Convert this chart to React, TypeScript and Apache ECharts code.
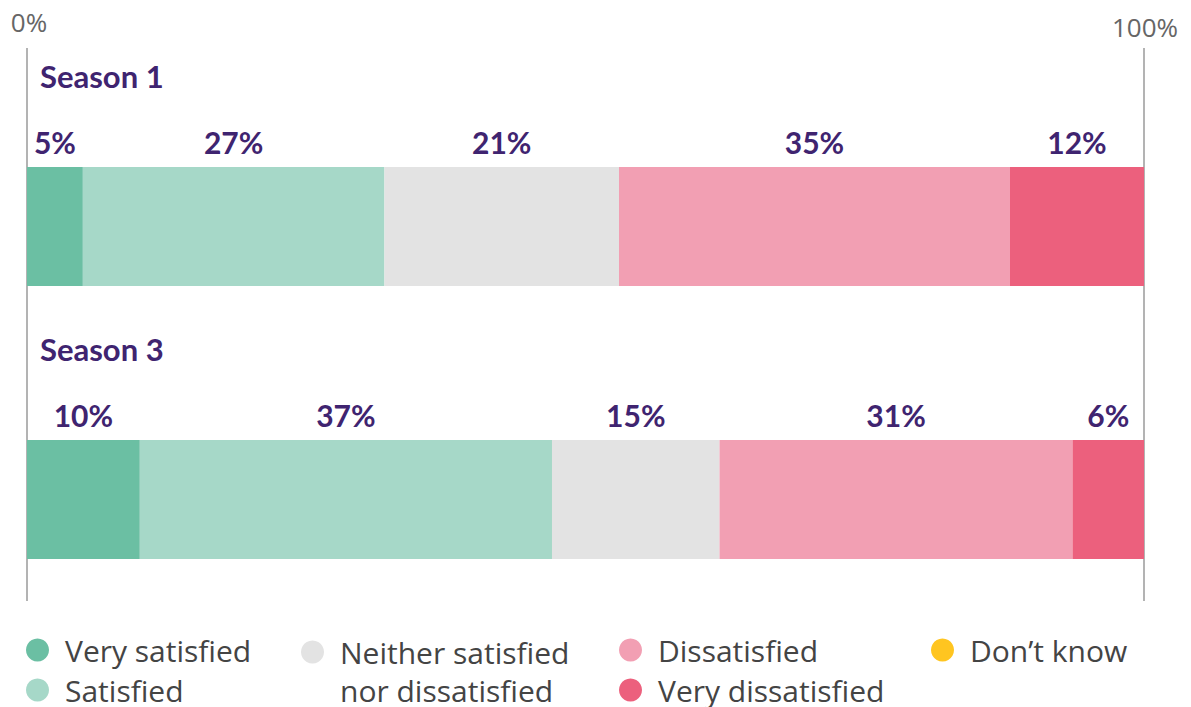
import React, { useEffect, useRef } from "react";
import * as echarts from "echarts";

const categories = ["Season 1", "Season 3"];
const seriesNames = [
  "Very satisfied",
  "Satisfied",
  "Neither satisfied\nnor dissatisfied",
  "Dissatisfied",
  "Very dissatisfied",
  "Don’t know",
];
const verySatisfied = [5, 10.1];
const satisfied = [27, 36.9];
const neither = [21, 15.0];
const dissatisfied = [35, 31.6];
const veryDissatisfied = [12, 6.4];
const dontKnow = [0, 0];

const verySatisfiedLabels = ["5%", "10%"];
const satisfiedLabels = ["27%", "37%"];
const neitherLabels = ["21%", "15%"];
const dissatisfiedLabels = ["35%", "31%"];
const veryDissatisfiedLabels = ["12%", "6%"];
const dontKnowLabels = ["", ""];

const axisEndLabels = ["0%", "100%"];

const colors = ["#6BBFA3", "#A6D8C8", "#E3E3E3", "#F29FB3", "#EC607D", "#FFC520"];
const PURPLE = "#3F2470";
const FONT = "Lato, 'Noto Sans', sans-serif";
const LFONT = "'Open Sans', 'Noto Sans', sans-serif";

export default function App() {
  const ref = useRef<HTMLDivElement>(null);
  useEffect(() => {
    document.body.style.margin = "0";
    if (!ref.current) return;
    const chart = echarts.init(ref.current, undefined, { renderer: "svg" });
    const values = [verySatisfied, satisfied, neither, dissatisfied, veryDissatisfied, dontKnow];
    const labels = [
      verySatisfiedLabels,
      satisfiedLabels,
      neitherLabels,
      dissatisfiedLabels,
      veryDissatisfiedLabels,
      dontKnowLabels,
    ];
    const legendText = {
      fontFamily: LFONT,
      fontSize: 30,
      color: "#444",
      lineHeight: 34,
      padding: [0, 0, 0, 11],
    };
    const legendBase = {
      orient: "vertical" as const,
      icon: "circle",
      itemWidth: 23,
      itemHeight: 23,
      itemGap: 6,
      height: 200,
      selectedMode: false,
      textStyle: legendText,
    };
    chart.setOption({
      animation: false,
      textStyle: { fontFamily: FONT },
      grid: { left: 27, right: 47, top: 90, bottom: 71 },
      xAxis: {
        type: "value",
        min: 0,
        max: 100,
        show: false,
      },
      yAxis: {
        type: "category",
        data: categories,
        inverse: true,
        axisLine: { show: false },
        axisTick: { show: false },
        axisLabel: {
          inside: true,
          interval: 0,
          hideOverlap: false,
          margin: 13,
          align: "left",
          verticalAlign: "middle",
          formatter: (v: string) => "{a|" + v + "}\n{b|\u00a0}",
          rich: {
            a: {
              fontFamily: FONT,
              fontSize: 31,
              fontWeight: "bold",
              color: PURPLE,
              height: 30,
              lineHeight: 30,
            },
            b: { height: 301, lineHeight: 301, fontSize: 10 },
          },
        },
        z: 10,
      },
      legend: [
        { ...legendBase, left: 21, top: 628, data: [seriesNames[0], seriesNames[1]] },
        {
          ...legendBase,
          left: 296,
          top: 590,
          data: [seriesNames[2]],
          formatter: (name: string) =>
            "{e|\u00a0}\n" + name.split("\n").map((s) => "{t|" + s + "}").join("\n"),
          textStyle: {
            ...legendText,
            lineHeight: 38,
            rich: {
              e: { height: 38, lineHeight: 38, fontSize: 10 },
              t: { fontFamily: LFONT, fontSize: 30, color: "#444", lineHeight: 38, height: 38 },
            },
          },
        },
        { ...legendBase, left: 614, top: 628, data: [seriesNames[3], seriesNames[4]] },
        { ...legendBase, left: 926, top: 628, data: [seriesNames[5]] },
      ],
      graphic: [
        { type: "line", shape: { x1: 27, y1: 48, x2: 27, y2: 601 }, style: { stroke: "#9a9a9a", lineWidth: 1.5 } },
        { type: "line", shape: { x1: 1144, y1: 48, x2: 1144, y2: 601 }, style: { stroke: "#9a9a9a", lineWidth: 1.5 } },
        {
          type: "text",
          x: 29,
          y: 22,
          style: { text: axisEndLabels[0], fontFamily: LFONT, fontSize: 26, fill: "#666", align: "center", verticalAlign: "middle" },
        },
        {
          type: "text",
          x: 1145,
          y: 27,
          style: { text: axisEndLabels[1], fontFamily: LFONT, fontSize: 26, fill: "#666", align: "center", verticalAlign: "middle" },
        },
      ],
      series: values.map((v, i) => ({
        name: seriesNames[i],
        type: "bar",
        stack: "total",
        barWidth: 119,
        data: v,
        itemStyle: { color: colors[i] },
        label: {
          show: i < 5,
          position: "top",
          distance: 10,
          fontFamily: FONT,
          fontSize: 30,
          fontWeight: "bold",
          color: PURPLE,
          formatter: (p: any) => labels[i][p.dataIndex],
        },
      })),
    });
    return () => chart.dispose();
  }, []);
  return <div ref={ref} style={{ width: 1191, height: 707 }} />;
}
